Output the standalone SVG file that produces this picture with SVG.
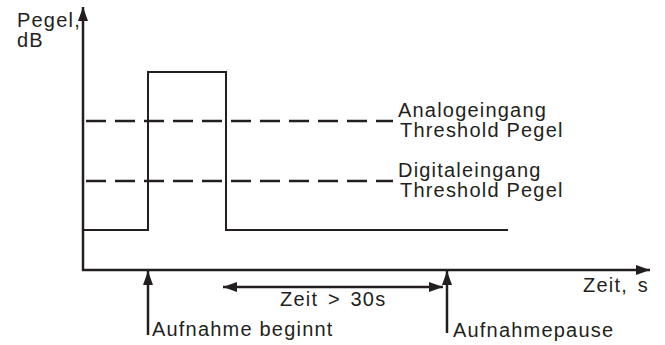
<svg xmlns="http://www.w3.org/2000/svg" width="665" height="345" viewBox="0 0 665 345">
  <style>
    .ax { stroke: #231f20; stroke-width: 2.5; fill: none; }
    .sig { stroke: #231f20; stroke-width: 2; fill: none; }
    .dash { stroke: #231f20; stroke-width: 2.5; fill: none; stroke-dasharray: 20 9; }
    .lbl { font-family: "Liberation Sans", Arial, sans-serif; font-size: 20px; fill: #231f20; letter-spacing: 1.2px; }
    .wide { word-spacing: 3px; }
  </style>
  <defs>
    <marker id="head" viewBox="0 0 14 10" refX="14" refY="5" markerWidth="14" markerHeight="10" markerUnits="userSpaceOnUse" orient="auto-start-reverse">
      <path d="M0,0 L14,5 L0,10 Z" fill="#231f20"/>
    </marker>
  </defs>

  <!-- axes -->
  <g id="axes">
    <line class="ax" x1="83" y1="271" x2="83" y2="7" marker-end="url(#head)"/>
    <line class="ax" x1="82" y1="270" x2="650" y2="270" marker-end="url(#head)"/>
    <text class="lbl" x="17" y="27">Pegel,</text>
    <text class="lbl" x="17" y="47">dB</text>
    <text class="lbl wide" x="583" y="292">Zeit, s</text>
  </g>

  <!-- level signal -->
  <g id="signal">
    <polyline class="sig" points="83,230 148,230 148,72 226,72 226,230 508,230"/>
  </g>

  <!-- threshold levels -->
  <g id="threshold-analog">
    <line class="dash" x1="86" y1="121" x2="393" y2="121"/>
    <text class="lbl" x="398" y="117">Analogeingang</text>
    <text class="lbl" x="400" y="137">Threshold Pegel</text>
  </g>
  <g id="threshold-digital">
    <line class="dash" x1="86" y1="181" x2="393" y2="181"/>
    <text class="lbl" x="398" y="177">Digitaleingang</text>
    <text class="lbl" x="400" y="197">Threshold Pegel</text>
  </g>

  <!-- events and interval -->
  <g id="connectors">
    <line class="ax" x1="148" y1="335" x2="148" y2="271" marker-end="url(#head)"/>
    <line class="ax" x1="447" y1="333" x2="447" y2="271" marker-end="url(#head)"/>
    <line class="ax" x1="223" y1="287" x2="443" y2="287" marker-start="url(#head)" marker-end="url(#head)"/>
  </g>
  <g id="start">
    <text class="lbl" x="152" y="336">Aufnahme beginnt</text>
  </g>
  <g id="pause">
    <text class="lbl" x="453" y="337">Aufnahmepause</text>
  </g>
  <g id="interval">
    <text class="lbl wide" x="280" y="306">Zeit &gt; 30s</text>
  </g>
</svg>
